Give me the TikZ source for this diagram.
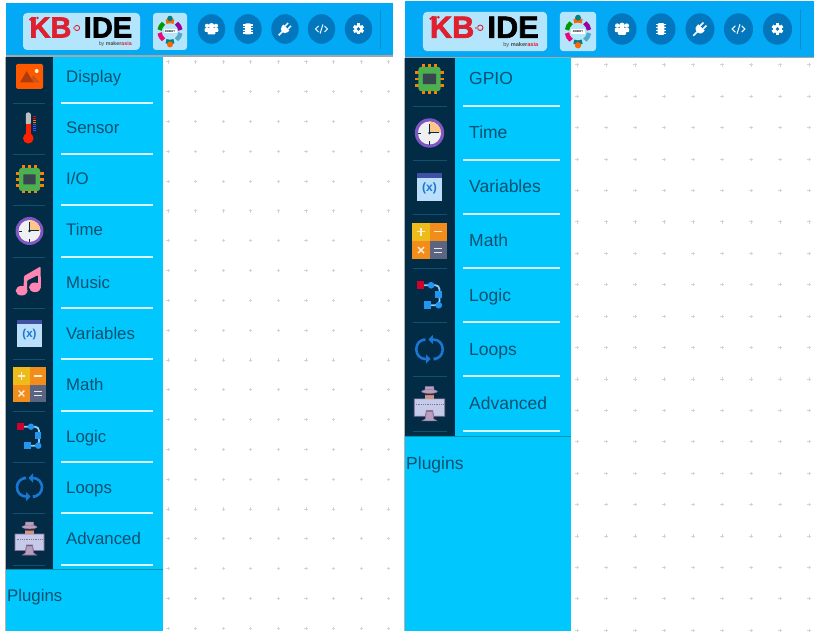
\documentclass[tikz,border=0pt]{standalone}
\usepackage{fontspec}
\setmainfont{Liberation Sans}
\newfontfamily\logofont[BoldFeatures={FakeBold=2}]{Liberation Sans}
\usepackage{tikz}
\usetikzlibrary{arrows.meta, positioning}

\definecolor{barblue}{HTML}{03A9F4}
\definecolor{menucyan}{HTML}{00C8FF}
\definecolor{stripdark}{HTML}{022B45}
\definecolor{stripline}{HTML}{11506F}
\definecolor{tilepale}{HTML}{B3E5FC}
\definecolor{roundblue}{HTML}{0277BD}
\definecolor{menutext}{HTML}{0B506E}
\definecolor{dotgrey}{HTML}{D4D4D4}
\definecolor{kbred}{HTML}{E0202E}
\definecolor{iconblue}{HTML}{2196F3}
\definecolor{loopblue}{HTML}{1976D2}
\definecolor{mathorange}{HTML}{F28C1A}
\definecolor{mathyellow}{HTML}{EDBB1A}
\definecolor{mathgrey}{HTML}{5B6480}
\definecolor{clockviolet}{HTML}{7E57C2}
\definecolor{monitorpale}{HTML}{C5CAE9}
\definecolor{monitoredge}{HTML}{8E6F9C}
\definecolor{hatgrey}{HTML}{B7A0BC}
\definecolor{notepink}{HTML}{FF85B3}
\definecolor{chipgreen}{HTML}{4CAF50}
\definecolor{chipcore}{HTML}{37474F}
\definecolor{varpale}{HTML}{BBDEFB}
\definecolor{varhead}{HTML}{3F51A5}

\tikzset{
  menulabel/.style={anchor=base west, inner sep=0pt, text=menutext, font=\fontsize{16.8}{18}\selectfont},
  menulabelr/.style={menulabel, font=\fontsize{17.5}{19}\selectfont},
  sepwhite/.style={draw=white!85!menucyan, line width=1.1pt},
  sepdark/.style={draw=stripline, line width=0.9pt},
  gridmark/.style={draw=dotgrey, line width=1pt},
  % sidebar icons, drawn about their centre
  iconimage/.pic={
    \fill[rounded corners=1.5pt, fill=orange!70!red] (-13.5,-12.5) rectangle (13.5,12.5);
    \fill[fill={rgb,255:red,200;green,85;blue,27}] (-1,6) -- (3.8,-1.2) -- (10.5,6) -- cycle;
    \fill[fill={rgb,255:red,176;green,60;blue,14}] (-9.5,6) -- (-2.8,-5.5) -- (4,6) -- cycle;
    \fill[white!80!yellow] (7.2,-5.5) circle (2);
  },
  iconthermo/.pic={
    \fill[black!25, rounded corners=2pt] (-3.7,-15.5) rectangle (1.3,-3);
    \fill[red!75!orange] (-3.7,-4) rectangle (1.3,8);
    \fill[red!75!orange] (-1.2,10.3) circle (5.3);
    \foreach \yy/\cc in {-12/red, -10/red, -8/orange, -6/orange, -4/blue!70, -2/blue!70, 0/blue!70, 2/blue!70}
      \draw[\cc, line width=0.9pt] (3.5,\yy) -- (6.2,\yy);
  },
  iconchip/.pic={
    \foreach \pp in {-6,0,6} {
      \fill[orange] (\pp-1.3,-14) rectangle (\pp+1.3,14);
      \fill[orange] (-14,\pp-1.3) rectangle (14,\pp+1.3);
    }
    \fill[chipgreen, rounded corners=2.5pt] (-10.5,-11.5) rectangle (10.5,11.5);
    \fill[chipcore, rounded corners=0.5pt] (-6.2,-5) rectangle (6.2,5);
  },
  iconclock/.pic={
    \fill[clockviolet] (0,0) circle (14);
    \fill[black!6] (0,0) circle (11);
    \fill[orange!45!white] (0,0) -- (0,-11) arc (-90:0:11) -- cycle;
    \draw[stripdark, line width=1pt] (0,-9) -- (0,0) -- (9,0);
    \draw[stripdark, line width=0.8pt] (0,8) -- (0,11) (-8,0) -- (-11,0);
    \fill[stripdark] (0,0) circle (1.4);
  },
  iconmusic/.pic={
    \fill[notepink] (-7.8,8.7) ellipse (6 and 4.8);
    \fill[notepink] (5.5,5.3) ellipse (6 and 4.8);
    \fill[notepink, rounded corners=1pt] (-6,8) -- (-5.5,-6) -- (11,-15.5) -- (11.5,5) -- (8.5,5) -- (8.5,-7) -- (-2.5,-1.5) -- (-2.5,8) -- cycle;
  },
  iconvar/.pic={
    \fill[varpale] (-12.2,-13.3) rectangle (12.2,13.3);
    \fill[varhead] (-12.2,-13.3) rectangle (12.2,-9);
    \node[inner sep=0pt, transform shape, text=loopblue, font=\bfseries\fontsize{11.5}{12}\selectfont] (varlabel) at (0,1.6) {(x)};
  },
  iconmath/.pic={
    \fill[mathyellow] (-16.2,-17.3) rectangle (0,0);
    \fill[mathorange] (0,-17.3) rectangle (16.2,0);
    \fill[mathorange] (-16.2,0) rectangle (0,17.3);
    \fill[mathgrey] (0,0) rectangle (16.2,17.3);
    \draw[white!85!orange, line width=1.1pt] (-12,-8.7) -- (-4.2,-8.7) (-8.1,-12.6) -- (-8.1,-4.8);
    \draw[white!85!orange, line width=1.1pt] (4.3,-8.7) -- (12,-8.7);
    \draw[white!85!orange, line width=1.4pt] (-11,5.8) -- (-5.2,11.6) (-11,11.6) -- (-5.2,5.8);
    \draw[white!85!mathgrey, line width=1.1pt] (4.3,7) -- (12,7) (4.3,10.8) -- (12,10.8);
  },
  iconlogic/.pic={
    \draw[tilepale!70!iconblue, line width=1.8pt, rounded corners=4pt] (-5.5,-9.3) -- (9.5,-9.3) -- (9.5,9.7) -- (0,9.7);
    \fill[purple!70!red] (-12.2,-13) rectangle (-5.5,-6);
    \fill[iconblue] (1.5,-9.3) circle (3.2);
    \fill[iconblue] (5.5,-4) rectangle (11.8,2.5);
    \fill[iconblue] (-5.5,6) rectangle (1.2,13);
    \fill[iconblue] (8.8,9.7) circle (3.2);
  },
  iconloop/.pic={
    \draw[loopblue, line width=2.6pt, rounded corners=9pt, -{Triangle[length=4.5pt,width=9pt]}]
      (6,9.5) -- (12.5,9.5) -- (12.5,-9) -- (-1,-9);
    \draw[loopblue, line width=2.6pt, rounded corners=9pt, -{Triangle[length=4.5pt,width=9pt]}]
      (-6,-9) -- (-12.5,-9) -- (-12.5,9.5) -- (1,9.5);
  },
  iconadvanced/.pic={
    \fill[hatgrey, draw=monitoredge, line width=0.6pt] (-3,9) -- (-4,16) -- (-7,18) -- (7,18) -- (4,16) -- (3,9) -- cycle;
    \fill[monitorpale, draw=monitoredge, line width=0.7pt] (-14.5,-3) -- (14.5,-3) -- (14.5,13.5) -- (4,13.5) -- (3,8) -- (-3,8) -- (-4,13.5) -- (-14.5,13.5) -- cycle;
    \draw[monitoredge, densely dotted, line width=0.8pt] (-13,2) -- (13,2);
    \fill[orange!30!hatgrey] (-4.5,-9) rectangle (4.5,-3);
    \fill[black!60!monitoredge, rounded corners=1pt] (-5,-9) rectangle (5,-6.5);
    \fill[hatgrey, draw=monitoredge, line width=0.4pt] (-4.5,-10) -- (-4,-15) -- (4,-15) -- (4.5,-10) -- cycle;
    \fill[hatgrey, draw=monitoredge, line width=0.4pt] (0,-10) ellipse (7.5 and 1.8);
  },
  % tool icons of the top bar
  toolusers/.pic={
    \fill[roundblue] (0,0) ellipse (13.7 and 14.8);
    \fill[white] (-4.5,-3.2) circle (2.1) (4.5,-3.2) circle (2.1);
    \fill[white, rounded corners=1pt] (-6.8,-1) rectangle (6.8,3);
    \fill[white] (0,-3.2) circle (2.8);
    \fill[white, rounded corners=1pt] (-3.8,-0.5) rectangle (3.8,5.5);
  },
  toolchip/.pic={
    \fill[roundblue] (0,0) ellipse (13.7 and 14.8);
    \fill[white, rounded corners=1pt] (-3.2,-5.5) rectangle (3.2,5.5);
    \foreach \pp in {-4,-1.3,1.3,4}
      \fill[white] (-4.6,\pp-0.6) rectangle (4.6,\pp+0.6);
  },
  toolplug/.pic={
    \fill[roundblue] (0,0) ellipse (13.7 and 14.8);
    \begin{scope}[rotate=-45]
      \fill[white] (-4.2,-2) -- (4.2,-2) -- (4.2,0) .. controls (4.2,3) and (2,4) .. (0,4) .. controls (-2,4) and (-4.2,3) .. (-4.2,0) -- cycle;
      \draw[white, line width=1.5pt] (-2,-2) -- (-2,-6.5) (2,-2) -- (2,-6.5);
      \draw[white, line width=1.6pt] (0,3) -- (0,9);
    \end{scope}
  },
  toolcode/.pic={
    \fill[roundblue] (0,0) ellipse (13.7 and 14.8);
    \draw[white, line width=1pt] (-3,-3) -- (-6,0) -- (-3,3) (3,-3) -- (6,0) -- (3,3) (1.4,-4.5) -- (-1.4,4.5);
  },
  toolgear/.pic={
    \fill[roundblue] (0,0) ellipse (13.7 and 14.8);
    \foreach \aa in {0,60,120}
      \fill[white, rotate=\aa] (-1.5,-5.5) rectangle (1.5,5.5);
    \fill[white] (0,0) circle (4.3);
    \fill[roundblue] (0,0) circle (1.8);
  },
  % logo tile of the top bar
  icontile/.pic={
    \fill[tilepale, rounded corners=3pt] (-17,-18.5) rectangle (17,18.5);
    \foreach \aa/\cc in {90/teal, 30/cyan!60!gray, -30/violet!80!magenta, -90/orange!80!red, -150/green!60!black, 150/magenta!80!red}
      \draw[\cc, line width=4.4pt] (\aa+22:10.5) arc (\aa+22:\aa-22:10.5);
    \fill[teal] (0,-13) circle (2.8);
    \fill[orange!80!red] (0,13) circle (3);
    \fill[white] (-6.5,-2) rectangle (6.5,2);
    \node[inner sep=0pt, text=black, font=\bfseries\fontsize{2.8}{3}\selectfont] (tiletext) at (0,0) {ROBOT};
  },
  % KB IDE logo, width given by the pic scale
  iconlogo/.pic={
    \fill[tilepale, rounded corners=4pt] (-58.5,-18.5) rectangle (58.5,18.5);
    \node[inner sep=0pt, transform shape, text=kbred, font=\logofont\bfseries\fontsize{29}{29}\selectfont] (logokb) at (-31,-4) {KB};
    \draw[kbred, line width=2pt] (-52,-11.5) -- (-48.5,-14);
    \fill[kbred] (-44,-13.5) circle (1.4);
    \draw[kbred, line width=0.9pt] (-4.5,-3.5) circle (2.6);
    \fill[kbred!50!tilepale] (-9,-4.3) rectangle (-7,-2.7);
    \node[inner sep=0pt, transform shape, text=black, font=\logofont\bfseries\fontsize{29}{29}\selectfont] (logoide) at (26.5,-4) {IDE};
    \node[inner sep=0pt, transform shape, anchor=east, text=black!70, font=\fontsize{5.3}{6}\selectfont] (logoby) at (50.5,13) {by \textbf{maker}\textcolor{kbred}{\textbf{asia}}};
  },
}

\begin{document}
\begin{tikzpicture}[>=Latex, x=1pt, y=-1pt]
    \useasboundingbox (0,0) rectangle (821,636);

    % Left panel
    \fill[barblue] (5.5,3) rectangle (393,56);
    \fill[black!35] (5.5,55.5) rectangle (393,57);
    \fill[menucyan] (5.5,57) rectangle (163,631);
    \fill[stripdark] (5.5,57) rectangle (53,569);
    \draw[teal!70!menucyan, line width=0.9pt] (5.5,569.5) -- (163,569.5);
    \draw[black!30, line width=0.6pt] (5.3,57) -- (5.3,631);

    % Left dots
    \foreach \xx in {0,...,8}
      \foreach \yy in {0,...,19} {
        \draw[gridmark] (168+27.6*\xx-1.6,62+29.8*\yy) -- ++(3.2,0);
        \draw[gridmark] (168+27.6*\xx,62+29.8*\yy-1.6) -- ++(0,3.2);
      }

    % Left top bar
    \pic at (81.5,31.5) {iconlogo};
    \pic at (170,31.5) {icontile};
    \pic at (211.5,29) {toolusers};
    \pic at (248,29) {toolchip};
    \pic at (285,29) {toolplug};
    \pic at (321.5,29) {toolcode};
    \pic at (358.5,29) {toolgear};
    \draw[barblue!85!black, line width=0.5pt] (380,10) -- (380,49);

    % Left menu
    \foreach \yy/\txt/\nm in {83/Display/a,134/Sensor/b,185/I\slash O/c,236/Time/d,288/Music/e,339/Variables/f,390/Math/g,442/Logic/h,493/Loops/i,544/Advanced/j}
      \node[menulabel] (left\nm) at (66,\yy) {\txt};
    \foreach \yy in {103,154,205,257,308,359,411,462,513,565} {
      \draw[sepwhite] (61,\yy) -- (153,\yy);
      \draw[sepdark] (13,\yy) -- (45,\yy);
    }
    \node[menulabel] (leftplugins) at (7,601) {Plugins};

    % Left icons
    \pic at (29.5,76.5) {iconimage};
    \pic at (29.5,128) {iconthermo};
    \pic at (29.5,179.5) {iconchip};
    \pic at (29.5,231) {iconclock};
    \pic at (29.5,282) {iconmusic};
    \pic at (29.5,333.4) {iconvar};
    \pic at (29.5,384.7) {iconmath};
    \pic at (29.5,436) {iconlogic};
    \pic at (29.5,487) {iconloop};
    \pic at (29.5,537) {iconadvanced};

    % Right panel
    \fill[barblue] (404.5,1) rectangle (814,57);
    \fill[black!35] (404.5,57) rectangle (814,58.5);
    \fill[menucyan] (404.5,58.5) rectangle (571,631);
    \fill[stripdark] (404.5,58.5) rectangle (455,436);
    \draw[teal!70!menucyan, line width=0.9pt] (404.5,436.5) -- (571,436.5);
    \draw[black!30, line width=0.6pt] (404.3,58) -- (404.3,631);

    % Right dots
    \foreach \xx in {0,...,8}
      \foreach \yy in {0,...,18} {
        \draw[gridmark] (577+29*\xx-1.6,65+31.4*\yy) -- ++(3.2,0);
        \draw[gridmark] (577+29*\xx,65+31.4*\yy-1.6) -- ++(0,3.2);
      }

    % Right top bar
    \pic[scale=1.06] at (485,31.5) {iconlogo};
    \pic[scale=1.06] at (578,31.5) {icontile};
    \pic[scale=1.06] at (622,29) {toolusers};
    \pic[scale=1.06] at (661,29) {toolchip};
    \pic[scale=1.06] at (700,29) {toolplug};
    \pic[scale=1.06] at (738.5,29) {toolcode};
    \pic[scale=1.06] at (777.5,29) {toolgear};
    \draw[barblue!85!black, line width=0.5pt] (800,9) -- (800,49);

    % Right menu
    \foreach \yy/\txt/\nm in {85/GPIO/a,139/Time/b,193/Variables/c,247/Math/d,301/Logic/e,355/Loops/f,409/Advanced/g}
      \node[menulabelr] (right\nm) at (469,\yy) {\txt};
    \foreach \yy in {106,160,214,268,322,376,431} {
      \draw[sepwhite] (463,\yy) -- (560,\yy);
      \draw[sepdark] (413,\yy) -- (447,\yy);
    }
    \node[menulabelr] (rightplugins) at (406,469) {Plugins};

    % Right icons
    \pic[scale=1.05] at (429.5,79) {iconchip};
    \pic[scale=1.05] at (429.5,133) {iconclock};
    \pic[scale=1.05] at (429.5,187) {iconvar};
    \pic[scale=1.05] at (429.5,241) {iconmath};
    \pic[scale=1.05] at (429.5,295) {iconlogic};
    \pic[scale=1.05] at (429.5,349) {iconloop};
    \pic[scale=1.05] at (429.5,402) {iconadvanced};

  \end{tikzpicture}
\end{document}
